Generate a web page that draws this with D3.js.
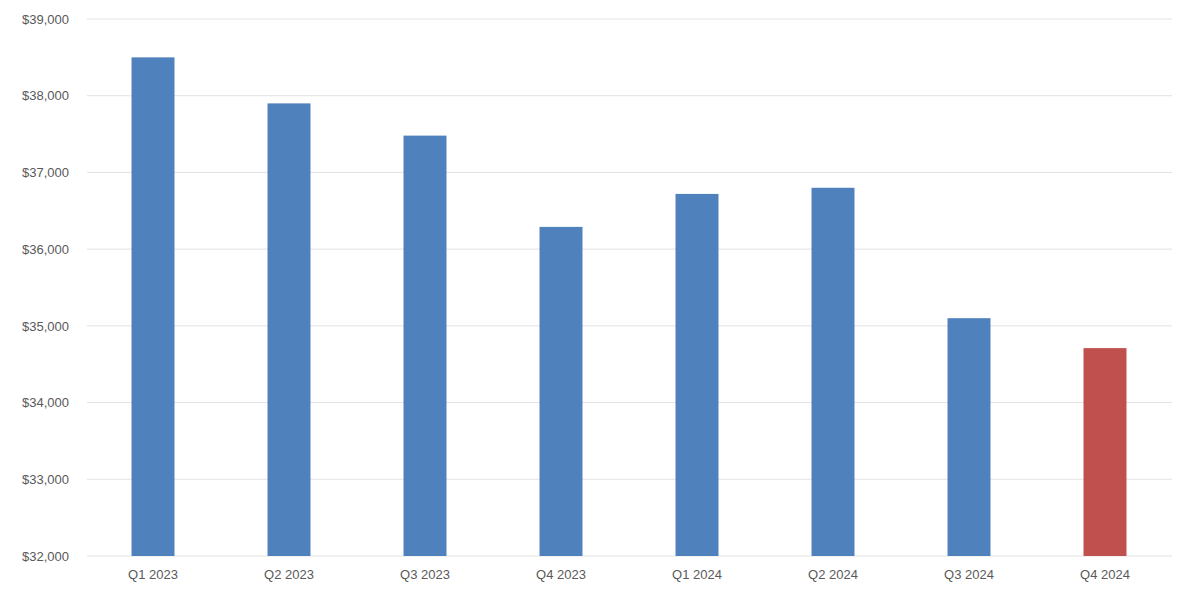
<!DOCTYPE html>
<html>
<head>
<meta charset="utf-8">
<script src="https://cdn.jsdelivr.net/npm/d3@7"></script>
<style>
  html, body { margin: 0; padding: 0; background: #fff; }
  svg { display: block; }
  text { font-family: "Liberation Sans", Arial, sans-serif; fill: #595959; }
</style>
</head>
<body>
<svg id="chart" width="1200" height="594"></svg>
<script>
const categories = ["Q1 2023", "Q2 2023", "Q3 2023", "Q4 2023", "Q1 2024", "Q2 2024", "Q3 2024", "Q4 2024"];
const values = [38500, 37900, 37480, 36290, 36720, 36800, 35100, 34710];
const highlighted = ["Q4 2024"];
const yTicks = [32000, 33000, 34000, 35000, 36000, 37000, 38000, 39000];

(function () {
const svg = d3.select("#chart");
const mLeft = 85, mRight = 1173, mTop = 19, mBottom = 556;

const x = d3.scaleBand().domain(categories).range([mLeft, mRight])
  .paddingInner(0.684).paddingOuter(0.342);
const y = d3.scaleLinear().domain([32000, 39000]).range([mBottom, mTop]);

// gridlines
svg.append("g").selectAll("line").data(yTicks).join("line")
  .attr("x1", 87).attr("x2", 1172)
  .attr("y1", d => y(d)).attr("y2", d => y(d))
  .attr("stroke", "#e3e3e3").attr("stroke-width", 1);

// y axis labels
const yAxis = d3.axisLeft(y).tickValues(yTicks)
  .tickFormat(d => "$" + d3.format(",")(d)).tickSize(0).tickPadding(0);
const gy = svg.append("g").attr("transform", "translate(69,0)").call(yAxis);
gy.select(".domain").remove();
gy.selectAll("text").attr("font-size", 13).attr("fill", "#595959")
  .style("font-family", "Liberation Sans, Arial, sans-serif");

// bars
svg.append("g").selectAll("rect").data(categories).join("rect")
  .attr("x", d => x(d))
  .attr("width", x.bandwidth())
  .attr("y", (d, i) => y(values[i]))
  .attr("height", (d, i) => y(32000) - y(values[i]))
  .attr("fill", d => highlighted.includes(d) ? "#C0504D" : "#4F81BD");

// x axis labels
const xAxis = d3.axisBottom(x).tickSize(0).tickPadding(0);
const gx = svg.append("g").attr("transform", "translate(0,570)").call(xAxis);
gx.select(".domain").remove();
gx.selectAll("text").attr("font-size", 13).attr("fill", "#595959")
  .style("font-family", "Liberation Sans, Arial, sans-serif");
})();
</script>
</body>
</html>
